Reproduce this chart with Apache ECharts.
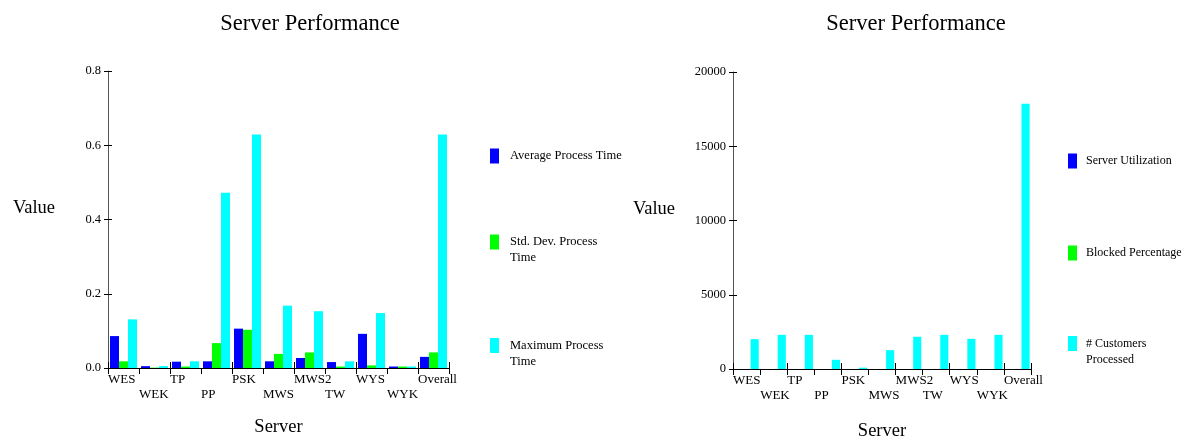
<!DOCTYPE html>
<html>
<head>
<meta charset="utf-8">
<script src="https://cdn.jsdelivr.net/npm/echarts@6/dist/echarts.min.js"></script>
<style>
  html, body { margin: 0; padding: 0; background: #fff; }
  #chart { width: 1189px; height: 442px; }
</style>
</head>
<body>
<div id="chart"></div>
<script>
// ---- data ----
const categories = ['WES', 'WEK', 'TP', 'PP', 'PSK', 'MWS', 'MWS2', 'TW', 'WYS', 'WYK', 'Overall'];

const avgProcessTime    = [0.086, 0.005, 0.017, 0.018, 0.106, 0.018, 0.027, 0.016, 0.092, 0.004, 0.030];
const stdDevProcessTime = [0.018, 0.001, 0.004, 0.067, 0.103, 0.038, 0.042, 0.004, 0.007, 0.004, 0.042];
const maxProcessTime    = [0.131, 0.005, 0.018, 0.472, 0.629, 0.168, 0.153, 0.018, 0.148, 0.004, 0.629];

const serverUtilization  = [0.6, 0.7, 0.3, 0.9, 0.8, 0.4, 0.5, 0.3, 0.6, 0.1, 0.5];
const blockedPercentage  = [0.0, 0.0, 0.0, 0.0, 0.0, 0.0, 0.0, 0.0, 0.0, 0.0, 0.0];
const customersProcessed = [2010, 2300, 2300, 620, 90, 1270, 2170, 2300, 2030, 2300, 17870];

const leftTicks  = [0, 0.2, 0.4, 0.6, 0.8];
const rightTicks = [0, 5000, 10000, 15000, 20000];

const titleText = 'Server Performance';
const yName = 'Value';
const xName = 'Server';

// ---- styling helpers ----
const FONT = "'Liberation Serif', 'Times New Roman', serif";
const BLUE = '#0000ff', GREEN = '#00ff00', CYAN = '#00ffff';

function xAxes(gridIndex, bandWidth, nameGap) {
  return [
    {
      type: 'category', gridIndex, data: categories, position: 'bottom',
      axisLine: { show: true, lineStyle: { color: '#000', width: 1 } },
      axisTick: { show: true, length: 6, lineStyle: { color: '#000' } },
      axisLabel: {
        interval: 0, margin: 4, hideOverlap: false, color: '#000',
        formatter: (v, i) => (i % 2 ? '{b|' + v + '}' : '{a|' + v + '}'),
        rich: {
          a: { width: bandWidth, align: 'left', fontSize: 13, lineHeight: 15, fontFamily: FONT, color: '#000' },
          b: { width: bandWidth, align: 'left', fontSize: 13, lineHeight: 15, fontFamily: FONT, color: '#000', padding: [30, 0, 0, 0] }
        }
      },
      splitLine: { show: false },
      name: xName, nameLocation: 'middle', nameGap,
      nameTextStyle: { fontFamily: FONT, fontSize: 18.5, color: '#000', verticalAlign: 'middle', align: 'center' }
    },
    {
      type: 'category', gridIndex, data: categories, position: 'bottom',
      axisLine: { show: false },
      axisTick: { show: true, inside: true, length: 6, lineStyle: { color: '#000' } },
      axisLabel: { show: false },
      splitLine: { show: false }
    }
  ];
}

function yAxes(gridIndex, ticks, fmt, nameGap) {
  const min = ticks[0], max = ticks[ticks.length - 1], interval = ticks[1] - ticks[0];
  return [
    {
      type: 'value', gridIndex, position: 'left', min, max, interval,
      axisLine: { show: true, lineStyle: { color: '#555' } },
      axisTick: { show: true, length: 4, lineStyle: { color: '#000' } },
      axisLabel: { margin: 7, fontSize: 12.5, fontFamily: FONT, color: '#000', formatter: fmt },
      splitLine: { show: false },
      name: yName, nameLocation: 'middle', nameRotate: 0, nameGap,
      nameTextStyle: { fontFamily: FONT, fontSize: 18.5, lineHeight: 22, color: '#000', align: 'center', verticalAlign: 'bottom' }
    },
    {
      type: 'value', gridIndex, position: 'left', min, max, interval,
      axisLine: { show: false },
      axisTick: { show: true, inside: true, length: 4, lineStyle: { color: '#000' } },
      axisLabel: { show: false },
      splitLine: { show: false }
    }
  ];
}

const ICON1 = 'rect';
const ICON2 = 'path://M0,0H9V15H0Z M0,31H0.01V31.01H0Z';

function legendItem(name, label, left, top, two, fontSize, padLeft) {
  return {
    data: [name], left, top, orient: 'vertical', padding: 0,
    icon: two ? ICON2 : ICON1, itemWidth: 9, itemHeight: two ? 31 : 15,
    formatter: () => label,
    textStyle: { fontFamily: FONT, fontSize, color: '#000', lineHeight: 16, padding: [0, 0, 0, padLeft] }
  };
}

function bar(name, data, color, xi, yi, gap) {
  return {
    name, type: 'bar', data, xAxisIndex: xi, yAxisIndex: yi,
    barGap: '0%', barCategoryGap: gap,
    itemStyle: { color }, emphasis: { disabled: true }
  };
}

const option = {
  animation: false,
  backgroundColor: '#fff',
  title: [
    { text: titleText, left: 310, top: 13, textAlign: 'center', padding: 0,
      textStyle: { fontFamily: FONT, fontSize: 22.5, fontWeight: 'normal', color: '#000' } },
    { text: titleText, left: 916, top: 13, textAlign: 'center', padding: 0,
      textStyle: { fontFamily: FONT, fontSize: 22.5, fontWeight: 'normal', color: '#000' } }
  ],
  grid: [
    { left: 108, top: 71, width: 341, height: 297, outerBoundsMode: 'none', containLabel: false },
    { left: 733, top: 72, width: 298, height: 297, outerBoundsMode: 'none', containLabel: false }
  ],
  xAxis: [...xAxes(0, 31, 59), ...xAxes(1, 27, 62)],
  yAxis: [
    ...yAxes(0, leftTicks, v => v.toFixed(1), 74),
    ...yAxes(1, rightTicks, v => String(v), 79)
  ],
  legend: [
    legendItem('Average Process Time', 'Average Process Time', 490, 148, false, 12.5, 6),
    legendItem('Std. Dev. Process Time', 'Std. Dev. Process\nTime', 490, 234, true, 12.5, 6),
    legendItem('Maximum Process Time', 'Maximum Process\nTime', 490, 337.5, true, 12.5, 6),
    legendItem('Server Utilization', 'Server Utilization', 1068, 153, false, 12, 4),
    legendItem('Blocked Percentage', 'Blocked Percentage', 1068, 245, false, 12, 4),
    legendItem('# Customers Processed', '# Customers\nProcessed', 1068, 335.5, true, 12, 4)
  ],
  series: [
    bar('Average Process Time', avgProcessTime, BLUE, 0, 0, '13%'),
    bar('Std. Dev. Process Time', stdDevProcessTime, GREEN, 0, 0, '13%'),
    bar('Maximum Process Time', maxProcessTime, CYAN, 0, 0, '13%'),
    bar('Server Utilization', serverUtilization, BLUE, 2, 2, '10%'),
    bar('Blocked Percentage', blockedPercentage, GREEN, 2, 2, '10%'),
    bar('# Customers Processed', customersProcessed, CYAN, 2, 2, '10%')
  ]
};

const chart = echarts.init(document.getElementById('chart'), null, { renderer: 'canvas' });
chart.setOption(option);
</script>
</body>
</html>
